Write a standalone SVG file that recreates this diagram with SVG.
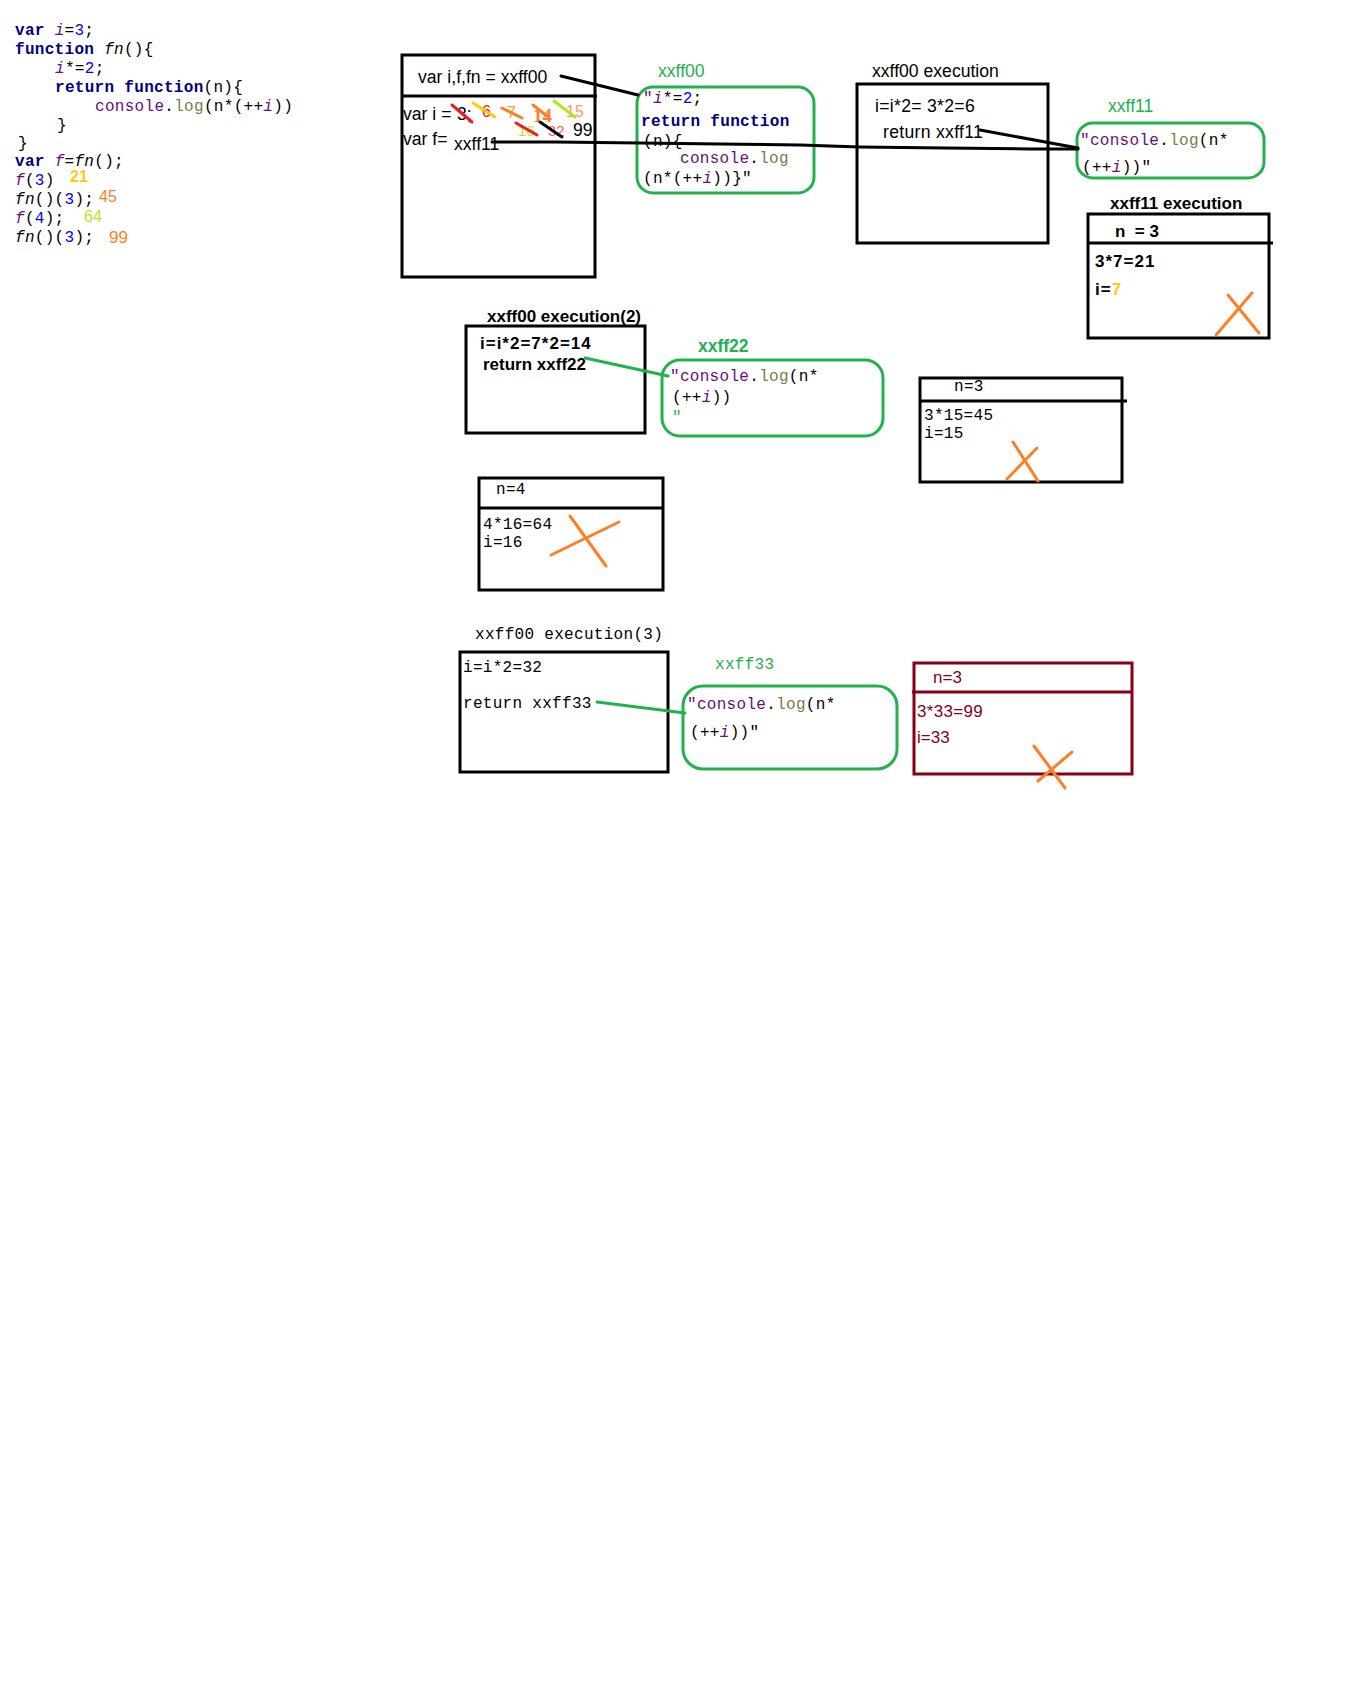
<svg xmlns="http://www.w3.org/2000/svg" width="1354" height="1697" viewBox="0 0 1354 1697">
  <style>
    .mono { font-family: "Liberation Mono", "Courier New", monospace; font-size: 16px; letter-spacing: 0.3px; fill: #000; }
    .sans { font-family: "Liberation Sans", Arial, sans-serif; font-size: 17.6px; fill: #000; }
    .bold { font-weight: bold; font-size: 17px; }
    .wide { letter-spacing: 1px; }
    .kw { fill: #000080; font-weight: bold; }
    .pv { fill: #660e7a; font-style: italic; }
    .pu { fill: #660e7a; }
    .num { fill: #0000ff; }
    .it { font-style: italic; }
    .lg { fill: #7a7a43; }
    .grn { fill: #22b14c; }
    .box { fill: none; stroke: #000; stroke-width: 3; }
    .gbox { fill: none; stroke: #22b14c; stroke-width: 3; }
    .rbox { fill: none; stroke: #880015; stroke-width: 3; }
    .wire { fill: none; stroke: #000; stroke-width: 3; stroke-linecap: round; }
    .gwire { fill: none; stroke: #22b14c; stroke-width: 3; stroke-linecap: round; }
    .cross { fill: none; stroke: #ff7f27; stroke-width: 3; stroke-linecap: round; }
    .strike { fill: none; stroke-width: 3; stroke-linecap: round; }
  </style>

  <!-- source listing -->
  <g id="source-code" class="mono">
    <text x="15" y="35"><tspan class="kw">var</tspan> <tspan class="pv">i</tspan>=<tspan class="num">3</tspan>;</text>
    <text x="15" y="54"><tspan class="kw">function</tspan> <tspan class="it">fn</tspan>(){</text>
    <text x="55" y="73"><tspan class="pv">i</tspan>*=<tspan class="num">2</tspan>;</text>
    <text x="55" y="92"><tspan class="kw">return</tspan> <tspan class="kw">function</tspan>(n){</text>
    <text x="95" y="111"><tspan class="pu">console</tspan>.<tspan class="lg">log</tspan>(n*(++<tspan class="pv">i</tspan>))</text>
    <text x="57" y="130">}</text>
    <text x="18" y="148">}</text>
    <text x="15" y="166"><tspan class="kw">var</tspan> <tspan class="pv">f</tspan>=<tspan class="it">fn</tspan>();</text>
    <text x="15" y="185"><tspan class="pv">f</tspan>(<tspan class="num">3</tspan>)</text>
    <text x="15" y="204"><tspan class="it">fn</tspan>()(<tspan class="num">3</tspan>);</text>
    <text x="15" y="223"><tspan class="pv">f</tspan>(<tspan class="num">4</tspan>);</text>
    <text x="15" y="242"><tspan class="it">fn</tspan>()(<tspan class="num">3</tspan>);</text>
  </g>
  <g id="results" class="sans" style="font-size:16px">
    <text x="70" y="182" style="fill:#ffc90e;font-weight:bold">21</text>
    <text x="99" y="202" style="fill:#ff7f27">45</text>
    <text x="84" y="222" style="fill:#b5e61d">64</text>
    <text x="109" y="243" style="fill:#ff7f27;font-size:17px">99</text>
  </g>

  <!-- global scope -->
  <g id="global-scope">
    <rect class="box" x="402" y="55" width="193" height="222"/>
    <line class="box" x1="402" y1="96" x2="597" y2="96"/>
    <text class="sans" x="418" y="83">var i,f,fn = xxff00</text>
    <text class="sans" x="403" y="120">var i =</text>
    <text class="sans" x="457" y="120">3;</text>
    <text class="sans" x="482" y="117" style="fill:#ed1c24;font-size:16px">6</text>
    <text class="sans" x="507" y="118" style="fill:#ff9f1c;font-size:16px">7</text>
    <text x="533" y="122" style="fill:#ff7f27;font-size:19px;font-weight:bold;font-family:'Liberation Serif',serif">14</text>
    <text class="sans" x="566" y="117" style="fill:#ff9966;font-size:16px">15</text>
    <text class="sans" x="518" y="136" style="fill:#b5e61d;font-size:15px">16</text>
    <text class="sans" x="548" y="136" style="fill:#ff5a5a;font-size:15px">32</text>
    <text class="sans" x="573" y="136">99</text>
    <text class="sans" x="403" y="145">var f=</text>
    <text class="sans" x="454" y="150">xxff11</text>
    <line class="strike" stroke="#ed1c24" x1="452" y1="105" x2="472" y2="122"/>
    <line class="strike" stroke="#ffc90e" x1="473" y1="103" x2="495" y2="117"/>
    <line class="strike" stroke="#ff7f27" x1="502" y1="108" x2="522" y2="118"/>
    <line class="strike" stroke="#ff7f27" x1="533" y1="105" x2="547" y2="116"/>
    <line class="strike" stroke="#b5e61d" x1="554" y1="101" x2="575" y2="117"/>
    <line class="strike" stroke="#ed1c24" x1="516" y1="123" x2="537" y2="135"/>
    <line class="strike" stroke="#000" x1="540" y1="122" x2="562" y2="137"/>
  </g>

  <!-- function object xxff00 -->
  <g id="xxff00">
    <text class="sans grn" x="658" y="77">xxff00</text>
    <rect class="gbox" x="637" y="87" width="177" height="106" rx="16"/>
    <text class="mono" x="643" y="103"><tspan class="pu">"</tspan><tspan class="pv">i</tspan>*=<tspan class="num">2</tspan>;</text>
    <text class="mono" x="641" y="126"><tspan class="kw">return</tspan> <tspan class="kw">function</tspan></text>
    <text class="mono" x="643" y="146">(n){</text>
    <text class="mono" x="680" y="163"><tspan class="pu">console</tspan>.<tspan class="lg">log</tspan></text>
    <text class="mono" x="643" y="183">(n*(++<tspan class="pv">i</tspan>))}"</text>
  </g>

  <!-- first call of fn -->
  <g id="xxff00-execution">
    <text class="sans" x="872" y="77">xxff00 execution</text>
    <rect class="box" x="857" y="84" width="191" height="159"/>
    <text class="sans" x="875" y="112" style="letter-spacing:0.3px">i=i*2= 3*2=6</text>
    <text class="sans" x="883" y="138" style="letter-spacing:0.3px">return xxff11</text>
  </g>

  <!-- closure xxff11 -->
  <g id="xxff11">
    <text class="sans grn" x="1108" y="112">xxff11</text>
    <rect class="gbox" x="1077" y="123" width="187" height="55" rx="16"/>
    <text class="mono" x="1080" y="145"><tspan class="pu">"</tspan><tspan class="pu">console</tspan>.<tspan class="lg">log</tspan>(n*</text>
    <text class="mono" x="1082" y="172">(++<tspan class="pv">i</tspan>))"</text>
  </g>

  <g id="xxff11-execution">
    <text class="sans bold" x="1110" y="209">xxff11 execution</text>
    <rect class="box" x="1088" y="214" width="181" height="124"/>
    <line class="box" x1="1088" y1="243" x2="1273" y2="243"/>
    <text class="sans bold" x="1115" y="237" xml:space="preserve">n  = 3</text>
    <text class="sans bold wide" x="1095" y="267">3*7=21</text>
    <text class="sans bold wide" x="1095" y="295">i=<tspan style="fill:#ffc90e">7</tspan></text>
    <line class="cross" x1="1216" y1="335" x2="1252" y2="293"/>
    <line class="cross" x1="1228" y1="295" x2="1259" y2="333"/>
  </g>

  <!-- second call of fn -->
  <g id="xxff00-execution-2">
    <text class="sans bold" x="487" y="322">xxff00 execution(2)</text>
    <rect class="box" x="466" y="326" width="179" height="107"/>
    <text class="sans bold wide" x="480" y="349">i=i*2=7*2=14</text>
    <text class="sans bold" x="483" y="370">return xxff22</text>
  </g>

  <g id="xxff22">
    <text class="sans bold grn" x="698" y="352" style="font-size:17.5px">xxff22</text>
    <rect class="gbox" x="662" y="360" width="221" height="76" rx="18"/>
    <text class="mono" x="670" y="381"><tspan class="pu">"</tspan><tspan class="pu">console</tspan>.<tspan class="lg">log</tspan>(n*</text>
    <text class="mono" x="672" y="402">(++<tspan class="pv">i</tspan>))</text>
    <text class="mono grn" x="672" y="422">"</text>
  </g>

  <g id="xxff22-call-n3">
    <rect class="box" x="920" y="378" width="202" height="104"/>
    <line class="box" x1="920" y1="401" x2="1127" y2="401"/>
    <text class="mono" x="954" y="391">n=3</text>
    <text class="mono" x="924" y="420">3*15=45</text>
    <text class="mono" x="924" y="438">i=15</text>
    <line class="cross" x1="1007" y1="479" x2="1037" y2="448"/>
    <line class="cross" x1="1013" y1="442" x2="1038" y2="481"/>
  </g>

  <g id="f-call-n4">
    <rect class="box" x="479" y="478" width="184" height="112"/>
    <line class="box" x1="479" y1="508" x2="663" y2="508"/>
    <text class="mono" x="496" y="494">n=4</text>
    <text class="mono" x="483" y="529">4*16=64</text>
    <text class="mono" x="483" y="547">i=16</text>
    <line class="cross" x1="551" y1="555" x2="619" y2="522"/>
    <line class="cross" x1="570" y1="516" x2="606" y2="566"/>
  </g>

  <!-- third call of fn -->
  <g id="xxff00-execution-3">
    <text class="mono" x="475" y="639">xxff00 execution(3)</text>
    <rect class="box" x="460" y="652" width="208" height="120"/>
    <text class="mono" x="463" y="672">i=i*2=32</text>
    <text class="mono" x="463" y="708">return xxff33</text>
  </g>

  <g id="xxff33">
    <text class="mono grn" x="715" y="669">xxff33</text>
    <rect class="gbox" x="683" y="686" width="214" height="83" rx="20"/>
    <text class="mono" x="687" y="709"><tspan class="pu">"</tspan><tspan class="pu">console</tspan>.<tspan class="lg">log</tspan>(n*</text>
    <text class="mono" x="690" y="737">(++<tspan class="pv">i</tspan>))"</text>
  </g>

  <g id="xxff33-call-n3">
    <rect class="rbox" x="914" y="663" width="218" height="111"/>
    <line class="rbox" x1="912" y1="692" x2="1133" y2="692"/>
    <g class="sans" style="fill:#880015;font-size:17px">
      <text x="933" y="683">n=3</text>
      <text x="917" y="717" style="letter-spacing:0.3px">3*33=99</text>
      <text x="917" y="743">i=33</text>
    </g>
    <line class="cross" x1="1038" y1="781" x2="1072" y2="752"/>
    <line class="cross" x1="1034" y1="746" x2="1065" y2="788"/>
  </g>

  <!-- references between scopes and heap objects -->
  <g id="connectors">
    <line class="wire" x1="561" y1="76" x2="638" y2="95"/>
    <polyline class="wire" points="492,142 555,142 640,143 720,144 800,145 860,147 945,148 1030,149 1078,149"/>
    <line class="wire" x1="980" y1="130" x2="1078" y2="148"/>
    <line class="gwire" x1="585" y1="358" x2="668" y2="376"/>
    <line class="gwire" x1="597" y1="702" x2="685" y2="713"/>
  </g>
</svg>
